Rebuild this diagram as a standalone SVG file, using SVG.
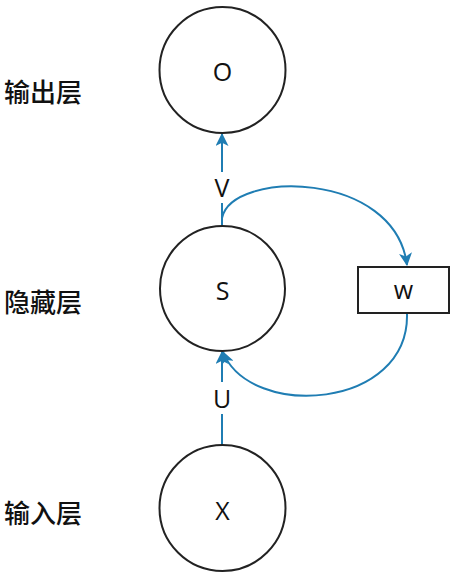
<svg xmlns="http://www.w3.org/2000/svg" width="466" height="574" viewBox="0 0 466 574">
<defs>
<marker id="ah2" viewBox="0 0 12 12" refX="11" refY="6" markerWidth="13" markerHeight="13" markerUnits="userSpaceOnUse" orient="auto">
<path d="M0,0 L12,6 L0,12 L3,6 Z" fill="#1f7db3"/>
</marker>
</defs>
<style>
.node{fill:#fff;stroke:#222;stroke-width:2}
.lbl{font-family:"Open Sans","Liberation Sans",Arial,sans-serif;font-size:25px;fill:#111;text-anchor:middle;dominant-baseline:central}
.layer{font-family:"Noto Sans CJK SC","Noto Sans",sans-serif;font-size:26px;font-weight:500;fill:#111;dominant-baseline:central}
.edge{fill:none;stroke:#1f7db3;stroke-width:2}
</style>
<rect width="466" height="574" fill="#fff"/>
<g id="layers">
<text class="layer" x="4" y="90">输出层</text>
<text class="layer" x="4" y="300">隐藏层</text>
<text class="layer" x="4" y="511">输入层</text>
</g>
<g id="edges">
<line class="edge" x1="222" y1="172" x2="222" y2="134" marker-end="url(#ah2)"/>
<line class="edge" x1="222" y1="203" x2="222" y2="226"/>
<path class="edge" d="M222,218 C232,170 395,170 407,265" marker-end="url(#ah2)"/>
<line class="edge" x1="222" y1="445" x2="222" y2="414"/>
<line class="edge" x1="222" y1="382" x2="222" y2="352" marker-end="url(#ah2)"/>
<path class="edge" d="M407,313 C410,410 250,420 223,352" marker-end="url(#ah2)"/>
<text class="lbl" x="222" y="187">V</text>
<text class="lbl" x="222" y="398">U</text>
</g>
<g id="node-O">
<circle class="node" cx="222.5" cy="70" r="63"/>
<text class="lbl" x="222.5" y="71">O</text>
</g>
<g id="node-S">
<circle class="node" cx="222.5" cy="288.5" r="62.5"/>
<text class="lbl" x="222.5" y="290">S</text>
</g>
<g id="node-X">
<circle class="node" cx="222.5" cy="508" r="63"/>
<text class="lbl" x="222.5" y="510">X</text>
</g>
<g id="node-w">
<rect class="node" x="358" y="267" width="91" height="46" stroke-width="1.5"/>
<text class="lbl" x="403.5" y="289">w</text>
</g>
</svg>
